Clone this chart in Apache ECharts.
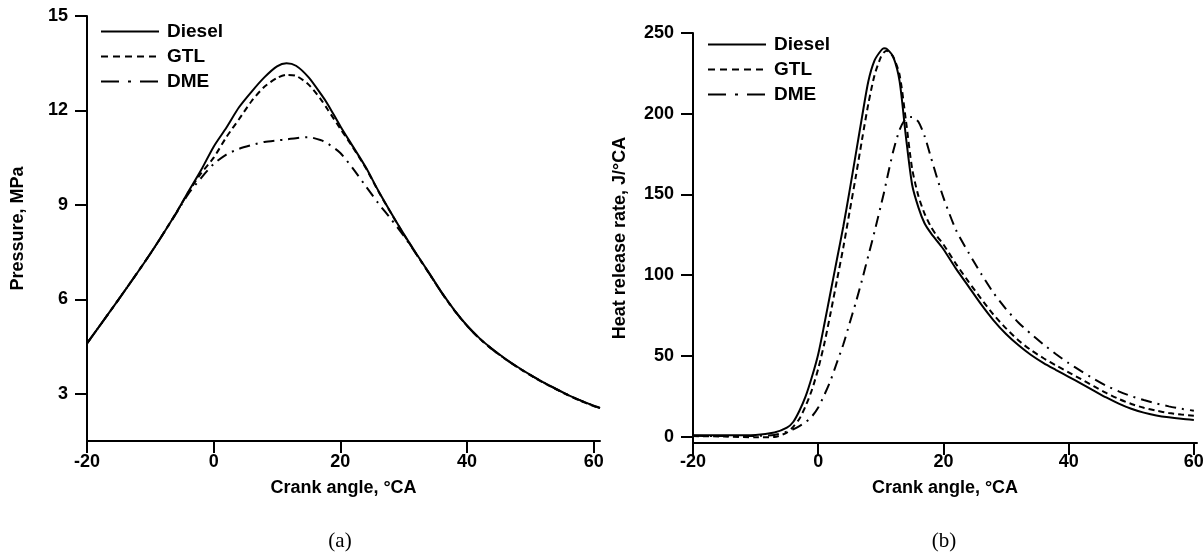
<!DOCTYPE html>
<html>
<head>
<meta charset="utf-8">
<script src="https://cdn.jsdelivr.net/npm/echarts@6/dist/echarts.min.js"></script>
<style>
  html, body { margin: 0; padding: 0; background: #fff; }
  #chart { width: 1204px; height: 559px; }
</style>
</head>
<body>
<div id="chart"></div>
<script>
// Cylinder pressure, MPa, against crank angle (panel a)
const caP = [-20, -15, -10, -6, -4, -2, 0, 2, 4, 6, 8, 10, 11.5, 13, 15, 17, 18, 20, 22, 24,
  26, 28, 30, 32, 34, 36, 38, 40, 42, 44, 46, 48, 50, 52, 54, 56, 58, 60, 61];
const pDiesel = [4.6, 6.0, 7.45, 8.72, 9.42, 10.1, 10.85, 11.45, 12.1, 12.6, 13.05, 13.4, 13.5, 13.42, 13.05, 12.5, 12.2, 11.5, 10.85, 10.2,
  9.45, 8.75, 8.08, 7.45, 6.84, 6.22, 5.66, 5.17, 4.76, 4.42, 4.12, 3.85, 3.6, 3.37, 3.16, 2.96, 2.78, 2.62, 2.55];
const pGTL = [4.6, 6.0, 7.45, 8.72, 9.4, 10.0, 10.5, 11.15, 11.72, 12.3, 12.75, 13.03, 13.13, 13.1, 12.82, 12.33, 12.03, 11.42, 10.82, 10.18,
  9.43, 8.74, 8.07, 7.44, 6.83, 6.21, 5.65, 5.16, 4.75, 4.41, 4.11, 3.84, 3.59, 3.36, 3.15, 2.95, 2.77, 2.61, 2.54];
const pDME = [4.6, 6.0, 7.45, 8.7, 9.35, 9.85, 10.3, 10.6, 10.78, 10.9, 11.0, 11.05, 11.08, 11.12, 11.15, 11.05, 10.95, 10.65, 10.15, 9.6,
  9.05, 8.55, 8.02, 7.43, 6.83, 6.21, 5.65, 5.16, 4.75, 4.41, 4.11, 3.84, 3.6, 3.37, 3.16, 2.96, 2.78, 2.62, 2.55];

// Heat release rate, J/°CA, against crank angle (panel b)
const caH = [-20, -15, -10, -7, -5, -4, -3, -2, -1, 0, 1, 2, 3, 4, 5, 6, 7, 8, 9, 10, 10.5,
  11, 12, 13, 14, 15, 16, 17, 18, 19, 20, 22, 24, 26, 28, 30, 32, 34, 36, 38, 40,
  42, 44, 46, 48, 50, 52, 54, 56, 58, 60];
const hDiesel = [0.8, 0.8, 1.0, 2.5, 5.5, 9, 16, 25, 37, 51, 70, 90, 110, 130, 152, 175, 198, 220, 233, 239, 240.5,
  240, 235, 220, 186, 156, 142, 132, 126, 121, 116, 104, 93, 82, 72, 63.5, 56.5, 50.5, 45.5, 41.2, 37,
  32.8, 28.5, 24.2, 20.4, 17.2, 14.8, 13.1, 11.9, 11.0, 10.3];
const hGTL = [0.3, 0, -0.5, -0.3, 2.5, 6, 11, 19, 29, 42, 58, 77, 97, 117, 139, 161, 184, 206, 224, 235, 238,
  239, 235, 224, 196, 166, 149, 138, 130, 124, 119, 107, 96, 85.5, 75.5, 67, 59.5, 53.5, 48.5, 44, 39.8,
  35.5, 31.2, 27, 23.3, 20.2, 17.8, 16, 14.6, 13.6, 12.9];
const hDME = [0.5, 0.3, 0.4, 1, 3, 4.5, 6.5, 9, 12.5, 18, 26, 35, 46, 57, 70, 83, 97, 112, 127, 143, 151,
  160, 177, 190, 197, 198, 195, 186, 173, 160, 148, 128, 114, 101, 89, 79, 70.5, 63.5, 57, 51, 45.5,
  40.5, 35.8, 31.5, 28, 25, 22.6, 20.5, 18.7, 17.2, 16];

// Tick labels
const caTicks = [-20, 0, 20, 40, 60];
const pTicks = [3, 6, 9, 12, 15];
const hTicks = [0, 50, 100, 150, 200, 250];

const SANS = '"Liberation Sans", Arial, sans-serif';
const SERIF = '"Liberation Serif", "Times New Roman", serif';
const BLACK = '#000';

const pairs = (xs, ys) => xs.map((x, i) => [x, ys[i]]);

const lineTypes = {
  Diesel: 'solid',
  GTL: [6, 4],
  DME: [11, 6, 2, 6]
};

const boldText = (size) => ({ color: BLACK, fontFamily: SANS, fontWeight: 'bold', fontSize: size });

function xAxisOf(gridIndex, max, nameGap, margin) {
  return {
    type: 'value', gridIndex, min: -20, max,
    name: 'Crank angle, °CA', nameLocation: 'middle', nameGap,
    nameTextStyle: boldText(18),
    axisLine: { onZero: false, lineStyle: { color: BLACK, width: 2 } },
    axisTick: { show: true, inside: false, length: 12, customValues: caTicks, lineStyle: { color: BLACK, width: 2 } },
    axisLabel: Object.assign({ customValues: caTicks, margin }, boldText(18)),
    splitLine: { show: false }
  };
}

function yAxisOf(gridIndex, min, max, ticks, name, nameGap) {
  return {
    type: 'value', gridIndex, min, max,
    name, nameLocation: 'middle', nameGap,
    nameTextStyle: boldText(18),
    axisLine: { onZero: false, lineStyle: { color: BLACK, width: 2 } },
    axisTick: { show: true, inside: false, length: 12, customValues: ticks, lineStyle: { color: BLACK, width: 2 } },
    axisLabel: Object.assign({ customValues: ticks, margin: 19 }, boldText(18)),
    splitLine: { show: false }
  };
}

function seriesOf(name, axisIndex, xs, ys) {
  return {
    type: 'line', name,
    xAxisIndex: axisIndex, yAxisIndex: axisIndex,
    data: pairs(xs, ys),
    symbol: 'none', showSymbol: false,
    smooth: 0.25,
    lineStyle: { color: BLACK, width: 2, type: lineTypes[name] },
    emphasis: { disabled: true },
    animation: false
  };
}

function legendOf(left, top) {
  return {
    orient: 'vertical', left, top, padding: 0,
    itemWidth: 58, itemHeight: 14, itemGap: 6,
    selectedMode: false,
    itemStyle: { color: 'rgba(0,0,0,0)', borderWidth: 0, opacity: 0 },
    textStyle: Object.assign({ padding: [0, 0, 0, 3] }, boldText(19)),
    data: [
      { name: 'Diesel' },
      { name: 'GTL', lineStyle: { type: [7, 5] } },
      { name: 'DME', lineStyle: { type: [18, 9, 3, 9] } }
    ]
  };
}

const chart = echarts.init(document.getElementById('chart'), null, { renderer: 'canvas' });

chart.setOption({
  backgroundColor: '#fff',
  animation: false,
  grid: [
    { left: 87, top: 16, width: 513, height: 425, outerBoundsMode: 'none', containLabel: false },
    { left: 693, top: 33, width: 504, height: 410, outerBoundsMode: 'none', containLabel: false }
  ],
  xAxis: [
    xAxisOf(0, 61, 38, 12),
    xAxisOf(1, 60.5, 36, 10)
  ],
  yAxis: [
    yAxisOf(0, 1.5, 15, pTicks, 'Pressure, MPa', 60),
    yAxisOf(1, -4, 250, hTicks, 'Heat release rate, J/°CA', 64)
  ],
  legend: [legendOf(100, 22), legendOf(707, 35)],
  series: [
    seriesOf('Diesel', 0, caP, pDiesel),
    seriesOf('GTL', 0, caP, pGTL),
    seriesOf('DME', 0, caP, pDME),
    seriesOf('Diesel', 1, caH, hDiesel),
    seriesOf('GTL', 1, caH, hGTL),
    seriesOf('DME', 1, caH, hDME)
  ],
  graphic: [
    { type: 'text', x: 340, y: 541, style: { text: '(a)', font: '21px ' + SERIF, fill: BLACK, align: 'center', verticalAlign: 'middle' } },
    { type: 'text', x: 944, y: 541, style: { text: '(b)', font: '21px ' + SERIF, fill: BLACK, align: 'center', verticalAlign: 'middle' } }
  ]
});
</script>
</body>
</html>
